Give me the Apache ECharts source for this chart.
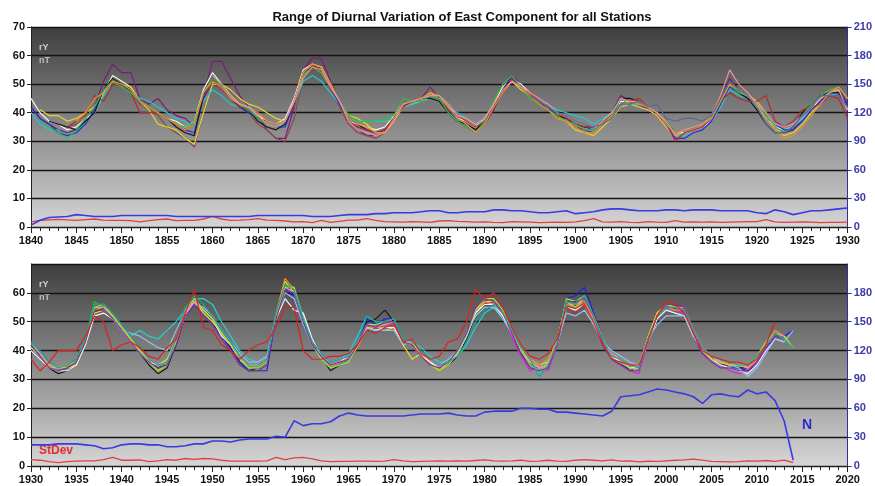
<!DOCTYPE html>
<html><head><meta charset="utf-8">
<script src="https://cdn.jsdelivr.net/npm/echarts@6/dist/echarts.min.js"></script>
<style>html,body{margin:0;padding:0;background:#fff}#c{width:875px;height:486px}</style>
</head><body><div id="c"></div>
<script>
var title = 'Range of Diurnal Variation of East Component for all Stations';
var topStart = 1840, botStart = 1930;
var xTicksTop = [1840,1845,1850,1855,1860,1865,1870,1875,1880,1885,1890,1895,1900,1905,1910,1915,1920,1925,1930];
var xTicksBot = [1930,1935,1940,1945,1950,1955,1960,1965,1970,1975,1980,1985,1990,1995,2000,2005,2010,2015,2020];
var n = null;
// ---- Top panel stations (nT), 1840-1930 ----
var tPurple = [42,38,36,34,33,34,38,42,51,57, 54,54,45,43,45,41,39,38,35,46, 58,58,52,46,42,39,34,31,31,42, 55,59,59,51,44,37,34,32,32,33, 37,42,44,45,49,45,40,37,35,33, 36,41,48,53,50,47,44,41,38,37, 35,34,33,36,40,46,44,43,41,39, 36,32,33,34,35,38,45,52,48,46, 43,40,35,33,34,38,42,45,47,49, 43];
var tWhite = [45,40,37,36,34,35,38,40,47,53, 51,49,44,42,40,38,37,35,37,48, 54,50,46,43,42,39,37,36,38,45, 55,57,56,50,44,37,36,35,34,35, 39,43,44,45,46,45,42,38,37,35, 38,43,49,52,50,47,44,42,40,38, 36,35,34,37,40,44,44,44,42,40, 37,33,33,34,35,37,43,49,47,46, 42,38,35,34,35,38,41,45,47,48, 41];
var tYellow = [n,41,39,39,37,38,40,42,47,52, 50,49,44,41,36,35,34,31,29,40, 50,50,48,45,43,42,40,38,37,43, 53,57,56,50,44,39,38,36,33,33, 37,42,43,44,47,45,42,39,37,35, 37,42,48,51,48,46,43,41,38,37, 34,33,32,35,38,42,43,42,41,39, 35,32,33,34,35,38,43,50,48,46, 44,40,35,32,33,36,40,43,47,49, 45];
var tCyan = [40,36,34,34,31,33,37,40,46,50, 49,47,45,44,42,40,38,37,35,44, 48,46,43,42,42,38,36,35,36,43, 51,53,51,47,43,38,37,37,37,37, 38,42,43,44,45,44,42,40,38,36, 37,42,48,51,49,46,44,43,41,40, 39,38,36,38,40,43,43,43,42,40, 37,33,32,33,34,37,42,48,46,45, 42,38,36,34,35,38,41,44,46,47, 42];
var tBlue = [42,38,36,33,32,33,36,41,48,51, 50,47,44,42,40,38,36,34,33,45, 51,49,45,42,40,38,36,35,35,43, 53,56,55,49,43,37,35,34,33,34, 38,43,44,45,46,45,41,38,36,34, 37,42,48,53,49,46,44,42,39,38, 36,35,34,36,39,45,44,44,42,40, 36,31,31,33,34,37,43,49,47,45, 43,40,36,34,34,37,41,44,47,47, 43];
var tBlack = [n,n,37,36,35,34,37,40,48,52, 50,48,44,42,40,38,35,33,32,46, 52,50,45,42,41,37,35,34,36,44, 54,56,55,49,44,38,36,34,33,34, 38,43,44,45,45,44,40,37,36,34, 37,42,48,52,49,46,43,41,39,38, 36,35,35,37,39,45,45,44,42,40, 37,33,34,35,36,38,44,50,47,45, 41,36,33,33,35,40,43,46,47,47, 42];
var tRed = [n,n,n,n,35,37,39,46,44,50, 49,47,40,40,40,38,36,34,36,46, 51,49,45,42,41,38,37,36,37,43, 54,57,55,49,44,37,35,34,33,34, 38,42,44,45,46,45,41,39,37,35, 37,42,47,52,49,47,44,42,40,38, 36,35,35,37,39,45,44,45,42,40, 37,30,33,34,35,38,44,47,45,44, 44,46,37,35,37,41,42,43,46,45, 38];
var tGreen = [n,37,35,33,31,34,38,42,48,51, 49,47,44,42,40,38,36,35,37,47, 52,50,45,43,41,38,36,35,37,44, 53,56,54,49,44,39,37,37,37,38, 39,45,44,44,46,45,40,37,35,33, 37,44,50,53,49,45,43,41,39,37, 36,34,34,36,39,45,43,44,42,40, 37,33,34,35,36,38,44,50,47,46, 43,39,35,33,35,39,43,46,48,49, 45];
var tOrange = [n,n,n,n,n,37,40,45,47,51, 50,48,44,42,40,38,36,34,36,47, 51,49,45,43,42,40,37,36,37,44, 54,57,56,50,44,38,36,35,33,33, 38,43,44,45,47,46,42,38,36,33, 36,42,47,51,49,46,43,41,38,37, 35,33,33,36,39,42,44,43,42,40, 36,33,34,35,36,38,44,50,48,46, 43,38,34,31,32,35,39,43,47,49, 45];
var tPink = [n,n,n,n,n,n,n,n,n,n, n,n,n,n,n,n,n,n,n,n, 53,50,46,43,42,39,36,35,37,44, 52,56,55,49,44,37,34,33,32,33, 37,43,44,45,46,46,43,39,38,36, 38,43,48,51,49,47,45,43,40,39, 37,36,35,37,40,45,44,44,42,40, 37,32,34,35,36,39,46,55,50,47, 43,40,36,35,36,39,42,45,47,48, 41];
var tSlate = [n,n,n,n,n,n,n,n,n,n, n,n,n,n,n,n,n,n,n,n, n,n,n,n,n,n,n,n,n,n, n,n,n,n,n,n,n,n,n,n, n,n,n,n,n,n,n,n,n,n, n,n,n,n,n,46,44,42,40,39, 37,36,35,36,38,43,43,44,42,43, 38,37,38,38,37,39,45,51,48,46, 42,36,33,33,35,39,42,46,46,46, 42];
var tBrown = [n,n,n,36,35,36,38,40,47,51, 49,47,43,41,39,35,33,31,28,40, 50,48,45,42,40,36,34,31,30,38, 52,55,55,48,42,36,33,32,31,33, n,n,n,n,n,n,n,n,n,n, n,n,n,n,n,n,n,n,n,n, n,n,n,n,n,n,n,n,n,n, n,n,n,n,n,n,n,n,n,n, n,n,n,n,n,n,n,n,n,n, n];
var tN = [2,7,10,10.5,11,13,12,11,11,11, 12,12,12,12,12,12,11,11,11,11, 11,11,11,11,11,12,12,12,12,12, 12,11,11,11,12,13,13,13,14,14, 15,15,15,16,17,17,15,15,16,16, 16,18,18,17,17,16,15,15,16,17, 14,15,16,18,19,19,18,17,17,17, 18,18,17,18,18,18,17,17,17,17, 15,14,18,16,13,15,17,17,18,19, 20];
var tStDev = [1.8,2.3,2.5,2.7,2.5,2.3,2.6,2.8,2.4,2.3, 2.3,2.2,1.8,2.2,2.6,2.8,2.2,2.3,2.3,2.8, 3.7,2.8,2.3,2.4,2.6,2.9,2.4,2.3,2.1,1.8, 1.9,1.5,2.3,1.6,2,2.4,2.4,2.9,2.3,1.9, 1.8,1.7,1.9,1.8,1.6,2.1,2.2,2.0,1.9,1.7, 1.8,1.6,1.5,1.9,1.8,1.7,1.5,1.6,1.7,1.6, 1.8,2.2,2.9,1.8,1.7,1.9,1.6,1.5,1.9,1.7, 1.6,2.2,1.7,1.8,1.7,1.8,1.6,1.7,1.8,1.9, 1.9,2.6,1.8,1.6,1.7,1.8,1.7,1.5,1.6,1.6, 1.7];
// ---- Bottom panel stations (nT), 1930-2014 ----
var bBlack = [42,38,34,32,33,35,42,53,55,52, 47,43,39,35,32,34,42,52,56,53, 50,45,41,36,33,34,36,51,63,61, 51,43,38,33,35,37,41,50,51,54, 50,43,42,38,35,33,35,38,44,53, 56,56,52,46,39,35,34,35,42,56, 55,58,51,42,37,36,33,34,45,52, 56,55,53,45,39,37,35,35,34,34, 37,41,46,44,n];
var bRed = [37,33,36,40,40,40,45,52,50,40, 42,43,41,38,37,41,44,53,61,48, 47,42,40,37,40,42,43,48,55,55, 40,37,37,38,38,39,42,47,46,48, 49,43,44,39,37,38,43,44,50,61, 58,60,55,48,42,38,37,39,44,55, 53,56,50,42,37,36,35,35,43,52, 57,56,53,46,40,38,37,36,36,35, 37,42,50,n,n];
var bGreen = [42,39,35,34,35,37,44,57,55,52, 48,44,40,36,34,36,43,53,58,54, 51,46,42,37,34,34,36,52,64,60, 50,42,37,34,35,37,42,49,48,50, 51,42,43,38,35,33,35,39,45,54, 57,57,53,46,40,35,33,35,43,58, 57,59,52,44,38,36,34,34,44,51, 55,55,54,46,40,37,36,35,35,35, 38,42,46,45,41];
var bCyan = [43,39,35,34,35,36,42,54,55,52, 48,45,47,45,44,47,50,54,58,58, 56,50,45,40,37,36,38,52,63,61, 52,43,39,36,37,39,45,52,50,49, 49,44,43,41,38,36,36,38,42,48, 53,55,52,47,41,37,32,36,43,56, 56,58,52,44,38,36,34,34,43,51, 54,54,53,46,40,38,36,35,35,35, 37,42,45,44,41];
var bBlue = [40,37,34,33,34,36,43,53,54,51, 47,43,40,36,34,35,42,52,56,53, 50,45,41,36,33,33,33,52,61,59, 49,42,38,35,36,38,43,51,49,51, 51,43,42,38,35,34,35,39,44,53, 57,57,54,47,40,35,33,35,44,58, 59,62,53,44,37,35,34,33,43,52, 55,55,54,46,40,37,35,34,34,33, 35,40,45,45,47];
var bMagenta = [n,n,n,n,n,n,n,n,n,n, n,n,n,n,n,n,n,n,n,n, n,n,n,n,n,n,n,51,61,60, 50,42,38,35,36,37,42,48,48,49, 49,43,43,39,36,34,36,39,45,54, 57,56,52,45,38,33,34,33,42,56, 55,57,51,43,37,35,33,32,43,51, 54,54,53,45,39,37,35,33,32,33, 36,41,45,44,n];
var bYellow = [41,38,35,34,34,35,42,53,54,51, 47,43,40,37,35,37,44,53,57,53, 50,46,42,38,35,35,37,52,64,60, 50,42,38,35,36,37,42,48,47,47, 48,42,37,39,36,33,36,39,45,53, 57,57,53,47,41,37,35,36,44,57, 55,58,52,44,38,37,35,34,45,53, 56,55,54,47,41,38,36,35,35,34, 37,42,46,45,41];
var bOrange = [41,38,35,34,35,36,43,54,55,52, 48,44,40,36,33,35,43,53,57,54, 51,46,42,37,35,35,37,53,65,61, 50,42,38,35,36,37,41,48,48,48, 49,43,42,38,35,33,35,39,45,54, 57,56,52,46,40,37,35,37,43,56, 55,57,51,43,37,36,34,35,44,52, 55,54,54,46,40,37,36,36,35,34, 37,42,47,45,n];
var bWhite = [40,37,34,33,33,35,42,52,53,51, 47,43,39,36,35,36,43,52,57,54, 51,45,42,37,35,35,37,51,58,54, 53,44,38,35,36,38,42,48,47,48, 48,43,42,38,36,34,36,39,45,53, 56,56,52,46,40,36,34,35,42,55, 54,56,50,43,38,36,34,34,43,51, 54,53,52,45,40,37,35,34,33,32, 35,40,44,43,n];
var bLightBlue = [n,n,n,n,n,n,n,n,n,n, 47,46,45,43,41,40,47,54,56,55, 52,47,43,39,36,36,38,52,60,58, 49,42,38,36,37,38,43,48,47,47, 47,42,43,39,37,35,37,40,46,52, 55,55,51,46,40,36,34,35,43,53, 52,54,49,43,40,38,36,35,44,49, 52,52,52,45,40,38,36,35,34,31, 34,39,44,43,47];
var bPink = [42,39,35,34,35,36,43,55,55,52, 48,44,40,37,35,36,43,53,57,54, 51,46,42,37,35,35,37,52,62,60, 50,42,38,35,36,37,42,49,48,49, 50,43,43,39,37,35,36,40,46,54, 58,57,53,47,40,36,34,35,43,57, 56,58,52,44,39,37,35,34,44,52, 55,55,55,47,41,38,36,35,35,34, 37,42,46,45,n];
var bLime = [41,38,34,34,35,36,43,55,56,52, 48,44,40,36,33,35,43,54,58,54, 51,46,42,37,34,34,36,52,62,62, 51,42,37,34,35,36,42,49,49,50, 51,43,43,38,35,33,35,39,45,54, 58,58,54,47,40,35,33,35,43,58, 57,59,52,44,37,36,34,33,44,52, 56,55,54,46,40,37,36,35,35,35, 38,43,46,44,41];
var bPurple = [42,38,34,33,34,36,43,54,54,51, 47,43,39,36,34,35,42,52,56,52, 49,44,40,35,33,33,35,51,61,60, 50,42,38,35,36,37,42,49,48,50, 50,43,42,38,35,34,36,40,46,55, 58,57,53,46,39,34,33,34,42,57, 57,58,52,43,37,35,33,33,44,52, 56,56,55,46,39,36,34,34,33,33, 36,41,45,44,n];
var bTeal = [43,40,36,34,35,37,44,56,56,53, 49,45,41,37,35,36,44,55,59,56, 52,47,43,38,35,35,37,53,63,61, 51,43,39,36,37,38,43,52,50,50, 51,44,43,40,37,35,36,38,43,50, 54,56,53,47,41,37,31,35,43,57, 56,59,52,44,38,37,35,34,44,52, 55,55,54,47,41,38,37,36,35,35, 38,42,46,44,41];
var bN = [22,22,22,23,23,23,22,21,18,19, 22,23,23,22,22,20,20,21,23,23, 26,26,25,27,28,28,28,31,30,47, 42,44,44,46,52,55,53,52,52,52, 52,52,53,54,54,54,55,53,52,52, 56,57,57,57,60,60,59,59,56,56, 55,54,53,52,57,72,73,74,77,80, 79,77,75,72,65,74,75,73,72,79, 75,77,68,47,6];
var bStDev = [2.2,2,1.5,1.2,1.5,1.7,1.8,1.8,2.2,3, 2,2,2.1,1.5,1.8,2.2,2,2.6,2.3,2.6, 2.5,2,1.7,1.7,1.7,1.7,1.8,3,2.2,2.8, 3,2.5,1.8,1.5,1.6,1.6,1.7,1.7,1.6,1.7, 2.2,1.8,1.5,1.6,1.7,1.8,1.7,1.8,1.7,1.9, 2.1,1.8,1.7,1.8,2,1.6,1.7,2,1.7,1.6, 2,2.2,2,1.8,2.1,1.7,1.8,1.4,1.7,1.6, 1.8,2,2.1,2.4,2,1.6,1.5,1.4,1.5,1.8, 1.7,1.9,1.6,2,1.2];

var topStations = [[tPurple,'#7a1c7a'],[tBrown,'#8a4a4a'],[tWhite,'#f4f4f4'],[tYellow,'#e8d428'],[tCyan,'#22c8d0'],[tBlue,'#2a2ad8'],[tBlack,'#181818'],[tRed,'#b52a2a'],[tGreen,'#30c040'],[tOrange,'#e89030'],[tPink,'#e890a0'],[tSlate,'#5a6a90']];
var botStations = [[bBlack,'#181818'],[bGreen,'#20c020'],[bCyan,'#22d0d0'],[bBlue,'#2020e0'],[bMagenta,'#e020e0'],[bYellow,'#f0e020'],[bOrange,'#f09020'],[bWhite,'#f4f4f4'],[bLightBlue,'#90c0f0'],[bPink,'#f090b0'],[bLime,'#a0e030'],[bPurple,'#8030a0'],[bTeal,'#20a090'],[bRed,'#e02020']];

function pairs(arr, start){ return arr.map(function(v,i){ return [start+i, v]; }); }
var bg = {type:'linear',x:0,y:0,x2:0,y2:1,colorStops:[{offset:0,color:'#3e3e3e'},{offset:1,color:'#d6d6d6'}]};
var grids = [
  {left:31, width:818, top:27, height:200, show:true, backgroundColor:bg, borderWidth:0},
  {left:31, width:818, top:264, height:202, show:true, backgroundColor:bg, borderWidth:0}
];
function xAx(gi, start){
  return {type:'value', gridIndex:gi, min:start, max:start+90, interval:5,
    axisLine:{show:true, lineStyle:{color:'#222', width:1}},
    axisTick:{show:true, length:6, lineStyle:{color:'#222'}},
    minorTick:{show:true, splitNumber:5, length:4, lineStyle:{color:'#222'}},
    splitLine:{show:false},
    axisLabel:{color:'#111', fontSize:11, fontWeight:'bold', fontFamily:'Liberation Sans, Arial', margin:8, formatter:function(v){return String(v);}}};
}
function yL(gi, showMax){
  return {type:'value', gridIndex:gi, min:0, max:70, interval:10, position:'left',
    axisLine:{show:true, lineStyle:{color:'#222'}},
    axisTick:{show:true, length:4, lineStyle:{color:'#222'}},
    splitLine:{show:true, lineStyle:{color:'#141414', width:1.4}},
    axisLabel:{color:'#111', fontSize:11, fontWeight:'bold', fontFamily:'Liberation Sans, Arial', margin:6, showMaxLabel:showMax}};
}
function yR(gi, showMax){
  return {type:'value', gridIndex:gi, min:0, max:210, interval:30, position:'right',
    axisLine:{show:true, lineStyle:{color:'#3030a0', width:1}},
    axisTick:{show:true, length:4, inside:false, lineStyle:{color:'#3030a0'}},
    splitLine:{show:false},
    axisLabel:{color:'#3a3aa8', fontSize:11, fontWeight:'bold', fontFamily:'Liberation Sans, Arial', margin:6, showMaxLabel:showMax}};
}
var series = [];
topStations.forEach(function(s){
  series.push({type:'line', xAxisIndex:0, yAxisIndex:0, data:pairs(s[0], topStart), symbol:'none', connectNulls:false, lineStyle:{color:s[1], width:1.2}, silent:true});
});
series.push({type:'line', xAxisIndex:0, yAxisIndex:0, data:pairs(tStDev, topStart), symbol:'none', lineStyle:{color:'#e04040', width:1.3}});
series.push({type:'line', xAxisIndex:0, yAxisIndex:1, data:pairs(tN, topStart), symbol:'none', lineStyle:{color:'#3a3ae0', width:1.6}});
botStations.forEach(function(s){
  series.push({type:'line', xAxisIndex:1, yAxisIndex:2, data:pairs(s[0], botStart), symbol:'none', connectNulls:false, lineStyle:{color:s[1], width:1.2}, silent:true});
});
series.push({type:'line', xAxisIndex:1, yAxisIndex:2, data:pairs(bStDev, botStart), symbol:'none', lineStyle:{color:'#e04040', width:1.3}});
series.push({type:'line', xAxisIndex:1, yAxisIndex:3, data:pairs(bN, botStart), symbol:'none', lineStyle:{color:'#3a3ae0', width:1.6}});

var chart = echarts.init(document.getElementById('c'), null, {renderer:'canvas'});
chart.setOption({
  animation:false,
  backgroundColor:'#ffffff',
  title:{text:title, left:457, textAlign:'center', top:6, textStyle:{fontSize:13, fontWeight:'bold', color:'#111', fontFamily:'Liberation Sans, Arial'}},
  grid:grids,
  xAxis:[xAx(0, topStart), xAx(1, botStart)],
  yAxis:[yL(0,true), yR(0,true), yL(1,false), yR(1,false)],
  series:series,
  graphic:[
    {type:'text', left:39, top:43, style:{text:'rY', fill:'#cfcfcf', font:'bold 9px Liberation Sans, Arial'}},
    {type:'text', left:39, top:56, style:{text:'nT', fill:'#bdbdbd', font:'bold 9px Liberation Sans, Arial'}},
    {type:'text', left:39, top:280, style:{text:'rY', fill:'#cfcfcf', font:'bold 9px Liberation Sans, Arial'}},
    {type:'text', left:39, top:293, style:{text:'nT', fill:'#bdbdbd', font:'bold 9px Liberation Sans, Arial'}},
    {type:'text', left:39, top:445, style:{text:'StDev', fill:'#e03030', font:'bold 12px Liberation Sans, Arial'}},
    {type:'text', left:802, top:418, style:{text:'N', fill:'#2a2ad0', font:'bold 14px Liberation Sans, Arial'}}
  ]
});
</script></body></html>
